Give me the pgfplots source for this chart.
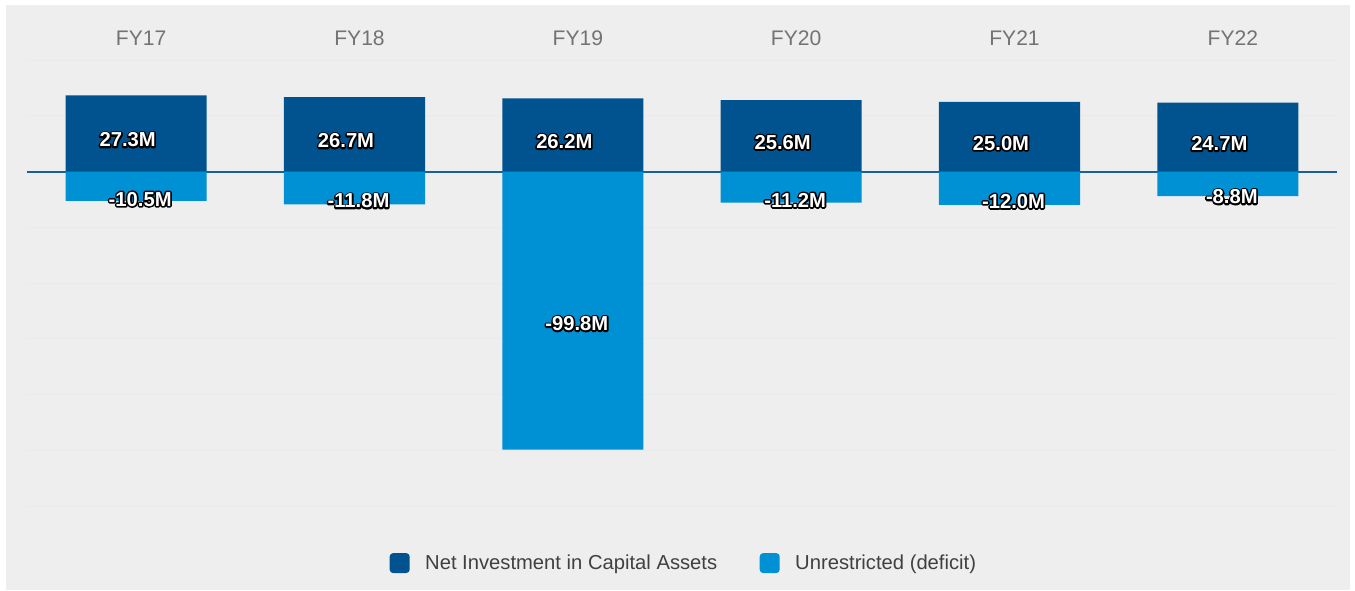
\documentclass[border=0pt]{standalone}
\usepackage{pgfplots}
\pgfplotsset{compat=1.18}
\usepackage{fontspec}
\setmainfont{Liberation Sans}

\definecolor{bgc}{HTML}{EEEEEE}
\definecolor{netc}{HTML}{00538F}
\definecolor{unrc}{HTML}{0090D4}
\definecolor{zeroc}{HTML}{1B5E9E}
\definecolor{gridc}{HTML}{E8EBEE}
\definecolor{fyc}{HTML}{737373}
\definecolor{legc}{HTML}{404040}

% white text with a black outline: a thick black stroked copy, white on top
\newcommand\olab[1]{%
  \rlap{\special{pdf:code 0 0 0 rg 0 0 0 RG 1.8 w 1 j 2 Tr}#1\special{pdf:code 0 Tr 1 1 1 rg 1 1 1 RG}}#1}

\begin{document}
\begin{tikzpicture}
% panel (1px = 0.2mm)
\fill[white] (0,0) rectangle (271mm,118mm);
\fill[bgc] (1.2mm,0) rectangle (270mm,117mm);
\useasboundingbox (0,0) rectangle (271mm,118mm);

\begin{axis}[
    at={(5.4mm,16.8mm)}, anchor=south west,
    scale only axis, width=262mm, height=89.2mm,
    xmin=-0.5, xmax=5.5, ymin=-120, ymax=40,
    axis line style={draw=none},
    major tick length=0,
    xtick={0,...,5},
    xticklabels={FY17, FY18, FY19, FY20, FY21, FY22},
    xticklabel pos=top,
    xticklabel style={font=\fontsize{12}{14}\selectfont, text=fyc, xshift=1mm, yshift=1.7mm},
    ytick={-120,-100,...,40},
    yticklabels={},
    ymajorgrids=true,
    grid style={gridc, line width=0.2mm},
    extra y ticks={0},
    extra y tick labels={},
    extra y tick style={grid style={zeroc, line width=0.4mm}},
    legend style={
        at={(0.502,-0.128)}, anchor=center,
        draw=none, fill=none,
        legend columns=2,
        font=\fontsize{11.5}{14}\selectfont,
        text=legc,
        /tikz/every even column/.append style={column sep=7.8mm}
    },
    legend cell align=left,
]

% Net investment in capital assets
\addplot[ybar, bar width=0.646, bar shift=0pt, fill=netc, draw=none,
    legend image code/.code={\fill[netc, rounded corners=0.7mm] (0mm,-2mm) rectangle (4mm,2mm); \path (6.4mm,0);}]
coordinates {
    (0,27.3) (1,26.7) (2,26.2) (3,25.6) (4,25.0) (5,24.7)
};
\addlegendentry{Net Investment in Capital Assets}

% Unrestricted (deficit)
\addplot[ybar, bar width=0.646, bar shift=0pt, fill=unrc, draw=none,
    legend image code/.code={\fill[unrc, rounded corners=0.7mm] (0mm,-2mm) rectangle (4mm,2mm); \path (6.4mm,0);}]
coordinates {
    (0,-10.5) (1,-11.8) (2,-99.8) (3,-11.2) (4,-12.0) (5,-8.8)
};
\addlegendentry{Unrestricted (deficit)}

% value labels, at the middle of each bar
\addplot[draw=none, mark=none, forget plot,
    nodes near coords={\olab{\pgfplotspointmeta}},
    point meta=explicit symbolic,
    every node near coord/.style={anchor=center, text=white, xshift=-1.7mm, yshift=-1.3mm,
        font=\bfseries\fontsize{11.5}{14}\selectfont}]
coordinates {
    (0,13.65) [27.3M] (1,13.35) [26.7M] (2,13.1) [26.2M]
    (3,12.8) [25.6M] (4,12.5) [25.0M] (5,12.35) [24.7M]
};
\addplot[draw=none, mark=none, forget plot,
    nodes near coords={\olab{\pgfplotspointmeta}},
    point meta=explicit symbolic,
    every node near coord/.style={anchor=center, text=white, xshift=0.8mm, yshift=-2.6mm,
        font=\bfseries\fontsize{11.5}{14}\selectfont}]
coordinates {
    (0,-5.25) [-10.5M] (1,-5.9) [-11.8M] (2,-49.9) [-99.8M]
    (3,-5.6) [-11.2M] (4,-6.0) [-12.0M] (5,-4.4) [-8.8M]
};

\end{axis}
\end{tikzpicture}
\end{document}
